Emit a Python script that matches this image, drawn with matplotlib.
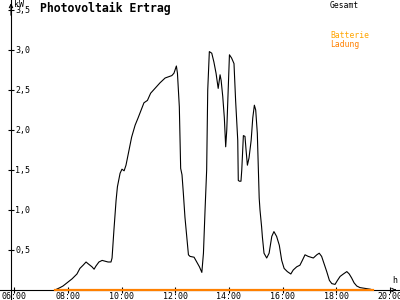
import matplotlib
matplotlib.use("Agg")
import matplotlib.pyplot as plt

# PV output (kW) over the day
hours = [7.51, 7.70, 7.81, 8.00, 8.15, 8.33, 8.44, 8.56, 8.67, 8.74, 8.89, 8.97,
         9.04, 9.15, 9.27, 9.38, 9.49, 9.60, 9.64, 9.71, 9.79, 9.84, 9.94, 10.01,
         10.09, 10.16, 10.25, 10.37, 10.50, 10.61, 10.75, 10.83, 10.96, 11.08,
         11.24, 11.43, 11.62, 11.87, 11.95, 12.04, 12.08, 12.15, 12.20, 12.25,
         12.30, 12.36, 12.43, 12.49, 12.55, 12.70, 12.80, 12.90, 12.99, 13.05,
         13.11, 13.17, 13.21, 13.27, 13.36, 13.44, 13.52, 13.60, 13.67, 13.71,
         13.77, 13.83, 13.88, 13.92, 13.98, 14.02, 14.10, 14.19, 14.25, 14.33,
         14.35, 14.39, 14.45, 14.48, 14.54, 14.60, 14.64, 14.69, 14.75, 14.83,
         14.89, 14.95, 15.00, 15.06, 15.10, 15.13, 15.16, 15.22, 15.25, 15.31,
         15.41, 15.50, 15.60, 15.68, 15.78, 15.88, 15.97, 16.06, 16.18, 16.31,
         16.40, 16.53, 16.65, 16.74, 16.84, 16.96, 17.15, 17.28, 17.37, 17.46,
         17.55, 17.65, 17.75, 17.84, 17.96, 18.05, 18.15, 18.27, 18.40, 18.49,
         18.58, 18.67, 18.77, 18.89, 19.08, 19.27, 19.38]
gesamt = [0.0, 0.03, 0.05, 0.10, 0.14, 0.20, 0.27, 0.31, 0.35, 0.33, 0.29, 0.26,
          0.30, 0.35, 0.37, 0.36, 0.35, 0.35, 0.40, 0.75, 1.12, 1.29, 1.46, 1.51,
          1.49, 1.56, 1.71, 1.91, 2.06, 2.15, 2.27, 2.34, 2.37, 2.46,
          2.52, 2.59, 2.65, 2.68, 2.71, 2.80, 2.71, 2.29, 1.52, 1.44,
          1.21, 0.91, 0.66, 0.44, 0.42, 0.41, 0.35, 0.29, 0.22, 0.46,
          1.00, 1.50, 2.50, 2.98, 2.96, 2.85, 2.71, 2.52, 2.69, 2.62,
          2.42, 2.15, 1.79, 2.00, 2.58, 2.94, 2.90, 2.83, 2.37, 1.87,
          1.37, 1.36, 1.36, 1.50, 1.93, 1.92, 1.75, 1.56, 1.65, 1.87,
          2.15, 2.31, 2.25, 1.96, 1.50, 1.15, 1.00, 0.79, 0.66, 0.46,
          0.40, 0.46, 0.67, 0.73, 0.67, 0.56, 0.37, 0.27, 0.23, 0.20,
          0.25, 0.29, 0.31, 0.37, 0.44, 0.42, 0.40, 0.44, 0.46, 0.42,
          0.33, 0.23, 0.12, 0.08, 0.07, 0.12, 0.17, 0.20, 0.23, 0.20,
          0.15, 0.09, 0.05, 0.03, 0.02, 0.01, 0.0]

# battery charging stays at zero the whole time
batt_hours = [7.51, 19.38]
batt_kw = [0.0, 0.0]

xticks = [6, 8, 10, 12, 14, 16, 18, 20]
xtick_labels = ["06:00", "08:00", "10:00", "12:00", "14:00", "16:00", "18:00", "20:00"]
yticks = [0.5, 1.0, 1.5, 2.0, 2.5, 3.0, 3.5]
ytick_labels = ["0,5", "1,0", "1,5", "2,0", "2,5", "3,0", "3,5"]

mono = "DejaVu Sans Mono"
plt.rcParams['font.family'] = mono

fig = plt.figure(figsize=(4, 3), dpi=100)
ax = fig.add_axes([0, 0, 1, 1])
ax.set_xlim(5.459, 20.384)
ax.set_ylim(-0.125, 3.625)

ax.plot(hours, gesamt, color='black', lw=0.8)
ax.plot(batt_hours, batt_kw, color='#ff8000', lw=1.6, zorder=3)

for s in ['top', 'right']:
    ax.spines[s].set_visible(False)
ax.spines['left'].set_position(('data', 5.869))
ax.spines['bottom'].set_position(('data', 0))
ax.spines['left'].set_linewidth(0.8)
ax.spines['bottom'].set_linewidth(0.8)

ax.set_xticks(xticks)
ax.set_xticklabels(xtick_labels)
ax.set_yticks(yticks)
ax.set_yticklabels(ytick_labels)
ax.tick_params(axis='x', direction='inout', length=4, width=0.8, pad=-0.6, labelsize=6)
ax.tick_params(axis='y', direction='inout', length=4, width=0.8, pad=-5, labelsize=6)
for lab in ax.get_yticklabels():
    lab.set_ha('left')

# arrow heads on the axes
ax.annotate('', xy=(20.35, 0), xytext=(20.1, 0),
            arrowprops=dict(arrowstyle='->', lw=0.8, color='black', mutation_scale=6))
ax.annotate('', xy=(5.869, 3.62), xytext=(5.869, 3.4),
            arrowprops=dict(arrowstyle='->', lw=0.8, color='black', mutation_scale=6))

ax.text(5.98, 3.62, "kW", fontsize=6, va='top', ha='left')
ax.text(20.08, 0.06, "h", fontsize=6, va='bottom', ha='left')

fig.text(40 / 400, 1 - 2 / 300, "Photovoltaik Ertrag", fontsize=8.3,
         fontweight='bold', va='top', ha='left')
fig.text(330 / 400, 1 - 5 / 300, "Gesamt", fontsize=5.8, va='center', ha='left')
fig.text(330 / 400, 1 - 36 / 300, "Batterie", fontsize=5.8, color='#ffa500',
         va='center', ha='left')
fig.text(330 / 400, 1 - 44 / 300, "Ladung", fontsize=5.8, color='#ff8000',
         va='center', ha='left')

fig.savefig("out.png", dpi=100)
